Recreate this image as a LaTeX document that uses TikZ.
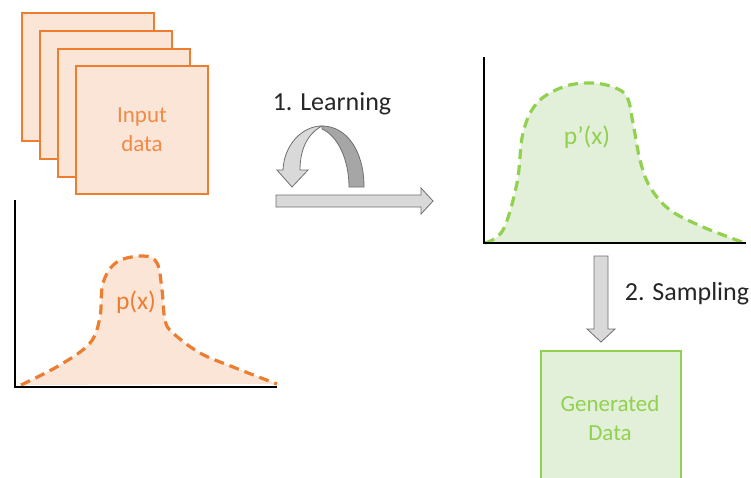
\documentclass[tikz,border=0pt]{standalone}
\usepackage{fontspec}
\setmainfont{Carlito}
\definecolor{orstroke}{HTML}{ED7D31}
\definecolor{orfill}{HTML}{FBE5D6}
\definecolor{ortext}{HTML}{F08A48}
\definecolor{grstroke}{HTML}{92D050}
\definecolor{grfill}{HTML}{E2F0D9}
\definecolor{arfill}{HTML}{D9D9D9}
\definecolor{ardark}{HTML}{A6A6A6}
\definecolor{arline}{HTML}{6F6F6F}
\begin{document}
\begin{tikzpicture}[x=1pt,y=-1pt,
  databox/.style={draw=orstroke, fill=orfill, line width=2pt, minimum width=132pt, minimum height=128pt, inner sep=0pt},
  genbox/.style={draw=grstroke, fill=grfill, line width=2pt, minimum width=140pt, minimum height=150pt, inner sep=0pt},
  boxtext/.style={font=\fontsize{23}{29}\selectfont, align=center},
  labeltext/.style={font=\fontsize{26}{30}\selectfont, text=black!85},
  curvetext/.style={font=\fontsize{25.5}{30}\selectfont},
  axis/.style={line width=2pt, black},
  blockarrow/.style={fill=arfill, draw=arline, line width=0.8pt, line join=miter},
  distline/.style={line width=3.2pt, dash pattern=on 10pt off 6pt}
]
\useasboundingbox (0,0) rectangle (751,477);
\fill[white] (0,0) rectangle (751,477);
\clip (0,0) rectangle (751,477);

% stacked input squares
\node[databox] (sq1) at (88,77) {};
\node[databox] (sq2) at (106,95) {};
\node[databox] (sq3) at (124,113) {};
\node[databox] (sq4) at (142,130) {};
\node[boxtext, text=ortext] (intext) at (sq4.center) {Input\\data};

% left distribution
\fill[orfill] plot[smooth, tension=0.6] coordinates {(21,385) (60,365) (90,343) (100,317) (103,283) (117,262) (143,256) (157,263) (162,290) (165,320) (173,333) (200,353) (233,367) (277,384)} -- cycle;
\draw[distline, orstroke] plot[smooth, tension=0.6] coordinates {(21,385) (60,365) (90,343) (100,317) (103,283) (117,262) (143,256) (157,263) (162,290) (165,320) (173,333) (200,353) (233,367) (277,384)};
\draw[axis] (15,200) -- (15,387) -- (277,387);
\node[curvetext, text=orstroke] (px) at (136,302) {p(x)};

% right distribution
\fill[grfill] plot[smooth, tension=0.6] coordinates {(485,243) (503,230) (517,183) (523,133) (537,103) (563,87) (590,83) (613,87) (627,97) (633,123) (640,160) (650,187) (670,210) (703,227) (742,242)} -- cycle;
\draw[distline, grstroke] plot[smooth, tension=0.6] coordinates {(485,243) (503,230) (517,183) (523,133) (537,103) (563,87) (590,83) (613,87) (627,97) (633,123) (640,160) (650,187) (670,210) (703,227) (742,242)};
\draw[axis] (484,57) -- (484,243) -- (746,243);
\node[curvetext, text=grstroke] (ppx) at (587,137) {p’(x)};

% learning label
\node[labeltext] (learn) at (332,104) {1. Learning};

% curved U-turn arrow
\path[blockarrow, fill=ardark] (322,126) .. controls (346,126) and (364,150) .. (364,187) -- (349,187) .. controls (349,160) and (338,136) .. (322,129) -- cycle;
\path[blockarrow] (277,170) -- (283,170) .. controls (284,145) and (302,126) .. (322,126) .. controls (307,134) and (300,150) .. (300,170) -- (308,170) -- (292,187) -- cycle;

% straight arrow
\path[blockarrow] (276,195) -- (421,195) -- (421,188) -- (433,201) -- (421,214) -- (421,207) -- (276,207) -- cycle;

% down arrow
\path[blockarrow] (594,256) -- (608,256) -- (608,329) -- (615,329) -- (601,342) -- (587,329) -- (594,329) -- cycle;
\node[labeltext] (samp) at (687,294) {2. Sampling};

% generated data
\node[genbox] (gen) at (611,426) {};
\node[boxtext, text=grstroke] (gentext) at (610,418) {Generated\\Data};
\end{tikzpicture}
\end{document}
